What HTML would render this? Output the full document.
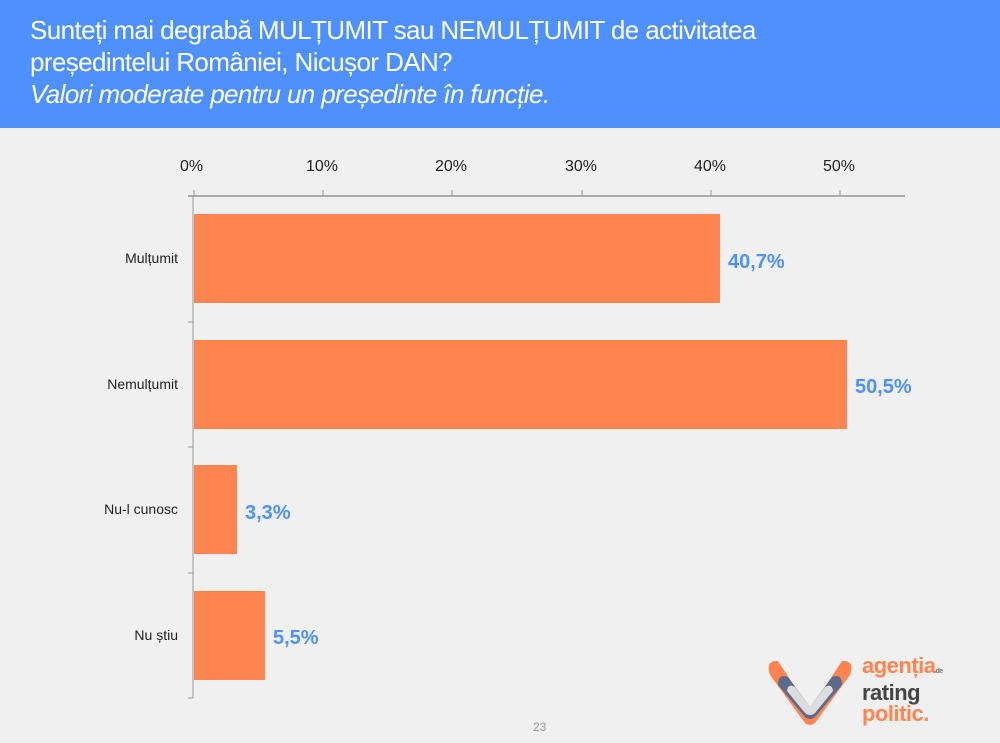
<!DOCTYPE html>
<html><head><meta charset="utf-8"><style>
body{margin:0;width:1000px;height:743px;background:#f0f0f0;font-family:"Liberation Sans",sans-serif;position:relative;overflow:hidden}
.hdr{position:absolute;left:0;top:0;width:1000px;height:128px;background:#4d90fe;color:#fff;font-size:26px;line-height:32px}
.hdr div{position:absolute;left:30px;top:14px;letter-spacing:-0.6px}
.t{position:absolute;font-size:16px;color:#222}
.v{position:absolute;font-size:20px;font-weight:bold;color:#4d90fe}
.c{position:absolute;font-size:14px;color:#222;text-align:right;width:170px}
.bar{position:absolute;left:194px;height:89px;background:#ff8450}
</style></head><body>
<div class="hdr"><div>Sunteți mai degrabă MULȚUMIT sau NEMULȚUMIT de activitatea<br>președintelui României, Nicușor DAN?<br><i>Valori moderate pentru un președinte în funcție.</i></div></div>
<svg style="position:absolute;left:0;top:0" width="1000" height="743">
<line x1="188" y1="196" x2="905" y2="196" stroke="#aaa" stroke-width="2"/>
<g stroke="#999"><line x1="194" y1="190" x2="194" y2="196"/><line x1="323" y1="190" x2="323" y2="196"/><line x1="452" y1="190" x2="452" y2="196"/><line x1="582" y1="190" x2="582" y2="196"/><line x1="711" y1="190" x2="711" y2="196"/><line x1="840" y1="190" x2="840" y2="196"/>
<line x1="193" y1="196" x2="193" y2="698"/>
<line x1="188" y1="322" x2="193" y2="322"/><line x1="188" y1="447" x2="193" y2="447"/><line x1="188" y1="573" x2="193" y2="573"/><line x1="188" y1="698" x2="193" y2="698"/></g>
</svg>
<div class="t" style="left:180px;top:158px">0%</div>
<div class="t" style="left:306px;top:158px">10%</div>
<div class="t" style="left:435px;top:158px">20%</div>
<div class="t" style="left:565px;top:158px">30%</div>
<div class="t" style="left:694px;top:158px">40%</div>
<div class="t" style="left:823px;top:158px">50%</div>
<div class="bar" style="top:214px;width:526px"></div>
<div class="bar" style="top:340px;width:653px"></div>
<div class="bar" style="top:465px;width:43px"></div>
<div class="bar" style="top:591px;width:71px"></div>
<div class="c" style="left:8px;top:250px">Mulțumit</div>
<div class="c" style="left:8px;top:376px">Nemulțumit</div>
<div class="c" style="left:8px;top:501px">Nu-l cunosc</div>
<div class="c" style="left:8px;top:627px">Nu știu</div>
<div class="v" style="left:728px;top:251px">40,7%</div>
<div class="v" style="left:855px;top:376px">50,5%</div>
<div class="v" style="left:245px;top:502px">3,3%</div>
<div class="v" style="left:273px;top:627px">5,5%</div>
<div style="position:absolute;left:533px;top:720px;font-size:12px;color:#999">23</div>
<svg style="position:absolute;left:760px;top:655px" width="100" height="70">
<path d="M10 20 Q5 5 18 6 L50 55 L82 6 Q95 5 90 20 L55 68 Q50 72 45 68Z" fill="#ff8450"/>
<path d="M18 30 Q18 18 28 22 L50 52 L72 22 Q82 18 82 30 L55 62 Q50 66 45 62Z" fill="#5b6b8c"/>
<path d="M27 36 Q28 28 35 32 L50 52 L65 32 Q72 28 73 36 L55 58 Q50 62 45 58Z" fill="#ddd"/>
</svg>
<div style="position:absolute;left:862px;top:655px;font-size:22px;font-weight:bold;line-height:21px;letter-spacing:-0.5px">
<span style="color:#ff8450">agenția</span><span style="font-size:7px;color:#777">de</span><br><span style="color:#444">rating</span><br><span style="color:#ff8450">politic.</span></div>
</body></html>
